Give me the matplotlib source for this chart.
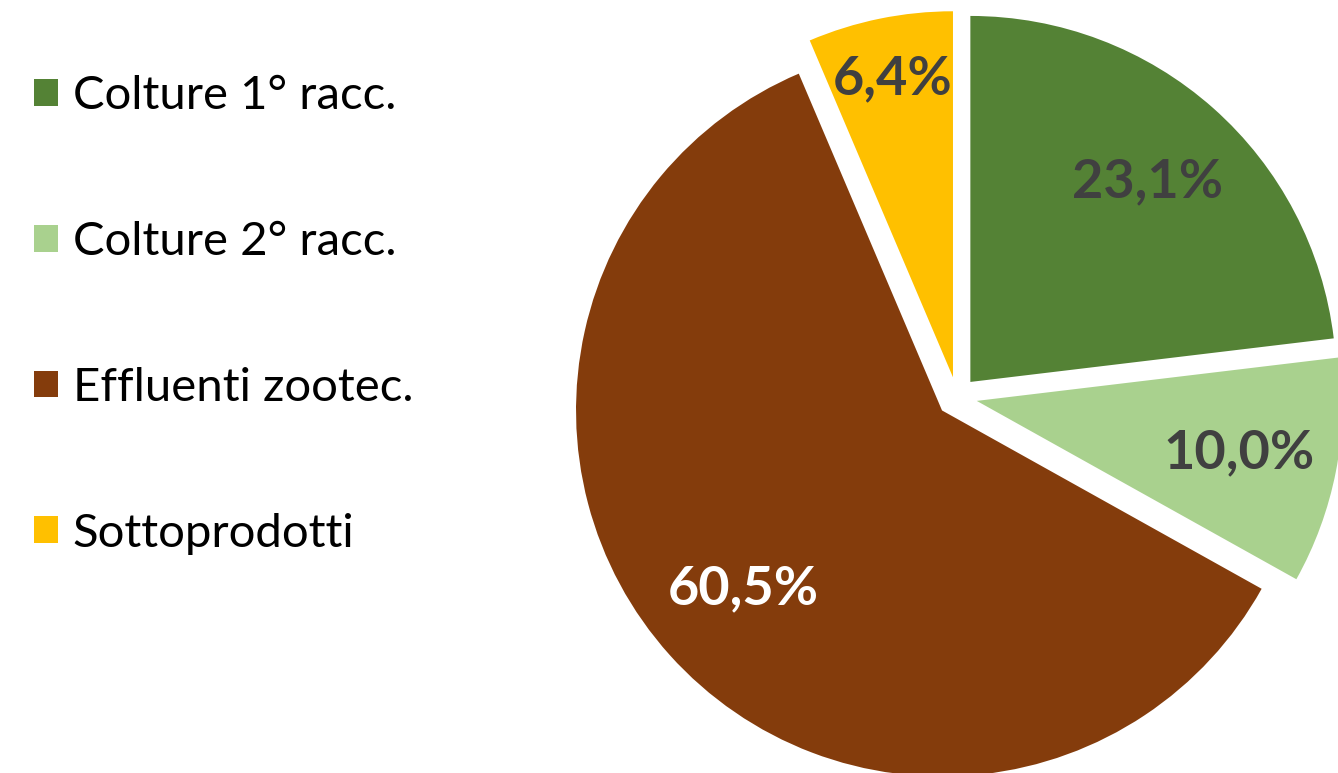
import matplotlib.pyplot as plt

categorie = ['Colture 1° racc.', 'Colture 2° racc.', 'Effluenti zootec.', 'Sottoprodotti']
quote = [23.1, 10.0, 60.5, 6.4]
colori = ['#548235', '#A9D18E', '#843C0C', '#FFC000']
colori_testo = ['#404040', '#404040', '#FFFFFF', '#404040']

plt.rcParams['font.family'] = ['Lato', 'DejaVu Sans']

fig = plt.figure(figsize=(13.38, 7.73), dpi=100)
ax = fig.add_axes([0, 0, 1, 1])

wedges, _, pcts = ax.pie(quote, colors=colori, startangle=90, counterclock=False,
                         explode=[0.055] * 4, autopct=lambda p: f'{p:.1f}%'.replace('.', ','),
                         pctdistance=0.73, wedgeprops=dict(linewidth=0),
                         textprops=dict(fontsize=39, fontweight='bold'))
for t, c in zip(pcts, colori_testo):
    t.set_color(c)
# etichetta della fetta piccola un po' più in fuori
x, y = pcts[3].get_position()
pcts[3].set_position((x * 1.13, y * 1.13))

# centro torta a (957, 397) px, raggio 366 px
r = 366
ax.set_xlim(-957 / r, (1338 - 957) / r)
ax.set_ylim(-(773 - 397) / r, 397 / r)
ax.set_aspect('auto')
ax.axis('off')

fig.legend(wedges, categorie, loc='upper left', bbox_to_anchor=(34 / 1338, 1 - 75 / 773),
           frameon=False, fontsize=34, handlelength=0.5, handleheight=0.5,
           handletextpad=0.32, labelspacing=2.2, borderpad=0, borderaxespad=0)

fig.savefig('out.png', dpi=100)
